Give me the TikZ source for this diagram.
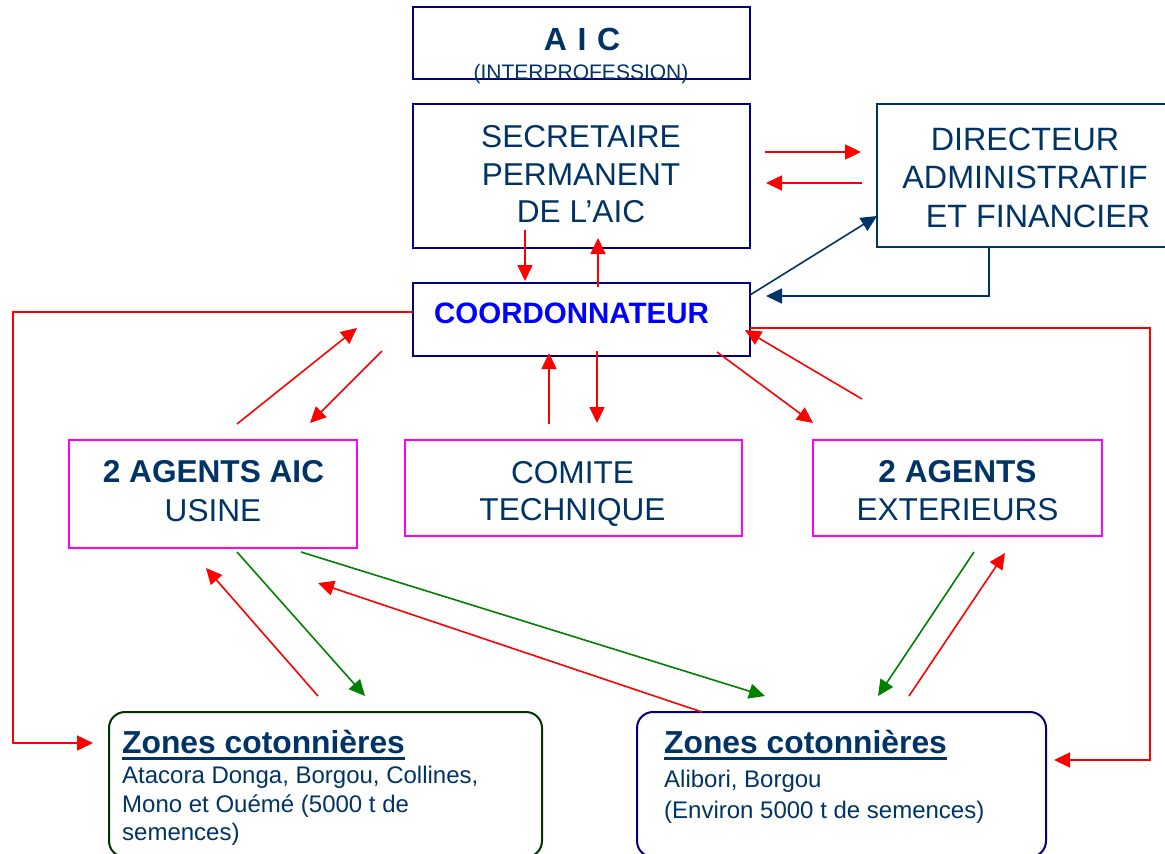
\documentclass[tikz,border=0pt]{standalone}
\usepackage{fontspec}
\setmainfont{Liberation Sans}
\usetikzlibrary{arrows.meta}
\definecolor{txtnavy}{RGB}{0,51,102}
\definecolor{boxnavy}{RGB}{0,0,128}
\definecolor{dafnavy}{RGB}{0,51,102}
\definecolor{mag}{RGB}{255,0,255}
\definecolor{rd}{RGB}{255,0,0}
\definecolor{gr}{RGB}{0,128,0}
\definecolor{dkgr}{RGB}{0,51,0}
\definecolor{coordblue}{RGB}{0,0,255}
\begin{document}
\begin{tikzpicture}[x=1pt,y=-1pt,
  box/.style={draw, line width=2pt, inner sep=0pt, outer sep=0pt, rectangle},
  zone/.style={box, rounded corners=16pt},
  lbl/.style={anchor=base, inner sep=0pt, text=txtnavy, font=\fontsize{31.6}{36}\selectfont},
  lblb/.style={lbl, font=\fontsize{31.6}{36}\selectfont\bfseries},
  ztitle/.style={anchor=base west, inner sep=0pt, text=txtnavy, font=\fontsize{31.8}{36}\selectfont\bfseries},
  zline/.style={anchor=base west, inner sep=0pt, text=txtnavy, font=\fontsize{24}{28}\selectfont},
  arr/.style={line width=1.6pt, -{Triangle[length=16pt,width=15pt]}},
  rarr/.style={arr, draw=rd},
  garr/.style={arr, draw=gr},
  narr/.style={arr, draw=dafnavy}
]
\useasboundingbox (0,0) rectangle (1165,854);
\fill[white] (0,0) rectangle (1165,854);

% boxes
\node[box, draw=boxnavy, minimum width=337pt, minimum height=72pt] (aic) at (581.5,43) {};
\node[box, draw=boxnavy, minimum width=337pt, minimum height=144pt] (sp) at (581.5,176) {};
\node[box, draw=dafnavy, minimum width=298pt, minimum height=143pt] (daf) at (1026,175.5) {};
\node[box, draw=boxnavy, minimum width=337pt, minimum height=73pt] (coord) at (581.5,319.5) {};
\node[box, draw=mag, minimum width=288pt, minimum height=108pt] (usine) at (213,494) {};
\node[box, draw=mag, minimum width=337pt, minimum height=96pt] (comite) at (573.5,488) {};
\node[box, draw=mag, minimum width=289pt, minimum height=96pt] (ext) at (957.5,488) {};
\node[zone, draw=dkgr, minimum width=433pt, minimum height=145pt] (zl) at (325.5,784.5) {};
\node[zone, draw=boxnavy, minimum width=409pt, minimum height=145pt] (zr) at (841.5,784.5) {};

% texts
\node[lblb, font=\fontsize{32}{36}\selectfont\bfseries] (aic1) at (582,50) {A\,\,I\,\,C};
\node[lbl, font=\fontsize{21}{24}\selectfont] (aic2) at (581,79) {(INTERPROFESSION)};
\node[lbl] (sp1) at (581,147) {SECRETAIRE};
\node[lbl] (sp2) at (581,185) {PERMANENT};
\node[lbl] (sp3) at (581,222) {DE L’AIC};
\node[lbl, font=\fontsize{32.3}{36}\selectfont] (daf1) at (1025,150) {DIRECTEUR};
\node[lbl, font=\fontsize{32.3}{36}\selectfont] (daf2) at (1025,188) {ADMINISTRATIF};
\node[lbl, font=\fontsize{32.3}{36}\selectfont] (daf3) at (1038,227) {ET FINANCIER};
\node[lblb, text=coordblue, font=\fontsize{29.5}{34}\selectfont\bfseries] (coordtxt) at (571.5,323) {COORDONNATEUR};
\node[lblb] (us1) at (213.5,482) {2 AGENTS AIC};
\node[lbl] (us2) at (213,521) {USINE};
\node[lbl] (ct1) at (572.5,483) {COMITE};
\node[lbl] (ct2) at (572.5,520) {TECHNIQUE};
\node[lblb] (ex1) at (957.5,482) {2 AGENTS};
\node[lbl] (ex2) at (957.5,520) {EXTERIEURS};

\node[ztitle] (zlt) at (122,753) {Zones cotonnières};
\draw[txtnavy, line width=3.2pt] ([yshift=-5.5pt]zlt.base west) -- ([yshift=-5.5pt]zlt.base east);
\node[zline] (zl1) at (122,783) {Atacora Donga, Borgou, Collines,};
\node[zline] (zl2) at (122,812) {Mono et Ouémé (5000 t de};
\node[zline] (zl3) at (122,840) {semences)};

\node[ztitle] (zrt) at (664,753) {Zones cotonnières};
\draw[txtnavy, line width=3.2pt] ([yshift=-5.5pt]zrt.base west) -- ([yshift=-5.5pt]zrt.base east);
\node[zline] (zr1) at (664,787) {Alibori, Borgou};
\node[zline] (zr2) at (664,818) {(Environ 5000 t de semences)};

% connector end points
\coordinate (c1a) at (765,152); \coordinate (c1b) at (861,152);
\coordinate (c2a) at (862,183); \coordinate (c2b) at (766,183);
\coordinate (c3a) at (525,230); \coordinate (c3b) at (525,281);
\coordinate (c4a) at (598,287); \coordinate (c4b) at (598,238);
\coordinate (l0) at (413,312); \coordinate (lc) at (13,743); \coordinate (l1) at (93,743);
\coordinate (r0) at (750,328); \coordinate (rc) at (1150,760); \coordinate (r1) at (1054,760);
\coordinate (d1a) at (862,399); \coordinate (d1b) at (745,330);
\coordinate (d2a) at (717,352); \coordinate (d2b) at (813,423);
\coordinate (d3a) at (237,424); \coordinate (d3b) at (357,328);
\coordinate (d4a) at (382,351); \coordinate (d4b) at (310,423);
\coordinate (e1a) at (549,424); \coordinate (e1b) at (549,353);
\coordinate (e2a) at (597,351); \coordinate (e2b) at (597,423);
\coordinate (f1a) at (318,696); \coordinate (f1b) at (206,568);
\coordinate (f2a) at (237,552); \coordinate (f2b) at (365,696);
\coordinate (f3a) at (301,552); \coordinate (f3b) at (765,696);
\coordinate (f4a) at (702,712); \coordinate (f4b) at (318,583);
\coordinate (f5a) at (974,552); \coordinate (f5b) at (878,696);
\coordinate (f6a) at (909,696); \coordinate (f6b) at (1005,553);
\coordinate (g1a) at (750,295); \coordinate (g1b) at (877,216);
\coordinate (g2a) at (989,247); \coordinate (g2b) at (766,296);

% connectors
\draw[rarr] (c1a) -- (c1b);
\draw[rarr] (c2a) -- (c2b);
\draw[rarr] (c3a) -- (c3b);
\draw[rarr] (c4a) -- (c4b);
\draw[rarr] (l0) -| (lc) -- (l1);
\draw[rarr] (r0) -| (rc) -- (r1);
\draw[rarr] (d1a) -- (d1b);
\draw[rarr] (d2a) -- (d2b);
\draw[rarr] (d3a) -- (d3b);
\draw[rarr] (d4a) -- (d4b);
\draw[rarr] (e1a) -- (e1b);
\draw[rarr] (e2a) -- (e2b);
\draw[rarr] (f1a) -- (f1b);
\draw[garr] (f2a) -- (f2b);
\draw[garr] (f3a) -- (f3b);
\draw[rarr] (f4a) -- (f4b);
\draw[garr] (f5a) -- (f5b);
\draw[rarr] (f6a) -- (f6b);
\draw[narr] (g1a) -- (g1b);
\draw[narr] (g2a) |- (g2b);
\end{tikzpicture}
\end{document}
